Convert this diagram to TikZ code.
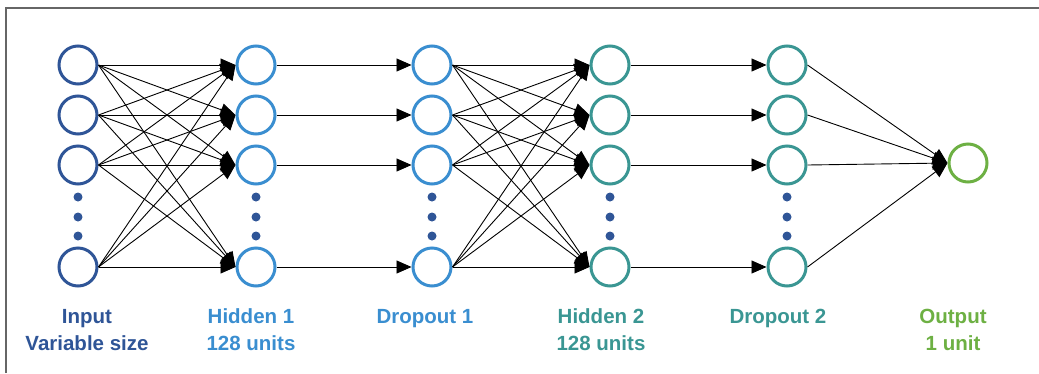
\documentclass[tikz,border=0pt]{standalone}
\usepackage{fontspec}
\setsansfont{Liberation Sans}
\usetikzlibrary{arrows.meta}
\definecolor{cin}{HTML}{2F5597}
\definecolor{chid}{HTML}{3A8ED0}
\definecolor{cteal}{HTML}{3A9693}
\definecolor{cout}{HTML}{6DB043}
\definecolor{cframe}{HTML}{666666}
\begin{document}
\begin{tikzpicture}[x=1pt,y=-1pt,
  unit/.style={circle,draw=#1,line width=3pt,minimum size=38pt,inner sep=0pt},
  vdot/.style={circle,fill=cin,minimum size=9pt,inner sep=0pt},
  arr/.style={line width=0.9pt,-{Triangle[length=15pt,width=13pt]}},
  lbl/.style={text=#1,font=\sffamily\bfseries\fontsize{20.5}{27}\selectfont,anchor=base,inner sep=0pt}]
\useasboundingbox (0,0) rectangle (1039,373);
% frame
\draw[cframe,line width=2pt] (6,373) -- (6,8) -- (1039,8);
% layers
\foreach \n/\x/\c in {i/78/cin,h/256/chid,d/432/chid,k/610/cteal,e/787/cteal}{
  \foreach \r/\y in {1/65,2/115,3/165,4/267}{
    \node[unit=\c] (\n\r) at (\x,\y) {};
  }
  \foreach \y [count=\j] in {197,217,236}{
    \node[vdot] (\n dot\j) at (\x,\y) {};
  }
}
\node[unit=cout] (o) at (968,163) {};
% fully connected blocks
\foreach \a in {1,2,3,4}{
  \foreach \b in {1,2,3,4}{
    \draw[arr] (i\a.east) -- (h\b.west);
    \draw[arr] (d\a.east) -- (k\b.west);
  }
  \draw[arr] (h\a.east) -- (d\a.west);
  \draw[arr] (k\a.east) -- (e\a.west);
  \draw[arr] (e\a.east) -- (o.west);
}
% labels
\node[lbl=cin] (li1) at (87,323) {Input};
\node[lbl=cin] (li2) at (87,350) {Variable size};
\node[lbl=chid] (lh1) at (251,323) {Hidden 1};
\node[lbl=chid] (lh2) at (251,350) {128 units};
\node[lbl=chid] (ld1) at (425,323) {Dropout 1};
\node[lbl=cteal] (lk1) at (601,323) {Hidden 2};
\node[lbl=cteal] (lk2) at (601,350) {128 units};
\node[lbl=cteal] (le1) at (778,323) {Dropout 2};
\node[lbl=cout] (lo1) at (953,323) {Output};
\node[lbl=cout] (lo2) at (953,350) {1 unit};
\end{tikzpicture}
\end{document}
